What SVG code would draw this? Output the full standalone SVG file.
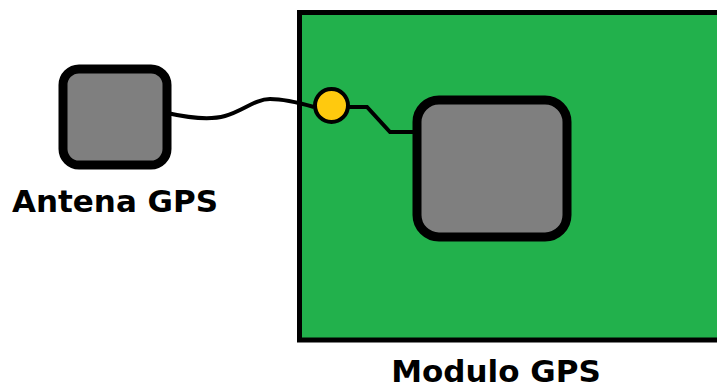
<svg xmlns="http://www.w3.org/2000/svg" width="717" height="388" viewBox="0 0 717 388">
<style>
.chip{fill:#7f7f7f;stroke:#000;stroke-width:9}
.wire{fill:none;stroke:#000;stroke-width:4;stroke-linejoin:miter}
.lbl{font-family:"DejaVu Sans",Verdana,sans-serif;font-weight:bold;font-size:31px;fill:#000}
</style>
<rect width="717" height="388" fill="#fff"/>
<g id="modulo">
<rect x="299.5" y="12.5" width="440" height="327.5" fill="#22b14c" stroke="#000" stroke-width="5"/>
<rect class="chip" x="417" y="100" width="150" height="137" rx="22"/>
<text class="lbl" x="496" y="382" text-anchor="middle">Modulo GPS</text>
</g>
<g id="antena">
<rect class="chip" x="63" y="69" width="104" height="96" rx="16"/>
<text class="lbl" x="115" y="212" text-anchor="middle">Antena GPS</text>
</g>
<g id="connectors">
<path class="wire" d="M167,113 C185,117 207,121 225,116 S255,99 270,99 S300,103 314,107"/>
<path class="wire" d="M349,107 H367 L390,132 H414"/>
</g>
<g id="conector">
<circle cx="331.5" cy="105.5" r="16.5" fill="#ffc90e" stroke="#000" stroke-width="4"/>
</g>
</svg>
